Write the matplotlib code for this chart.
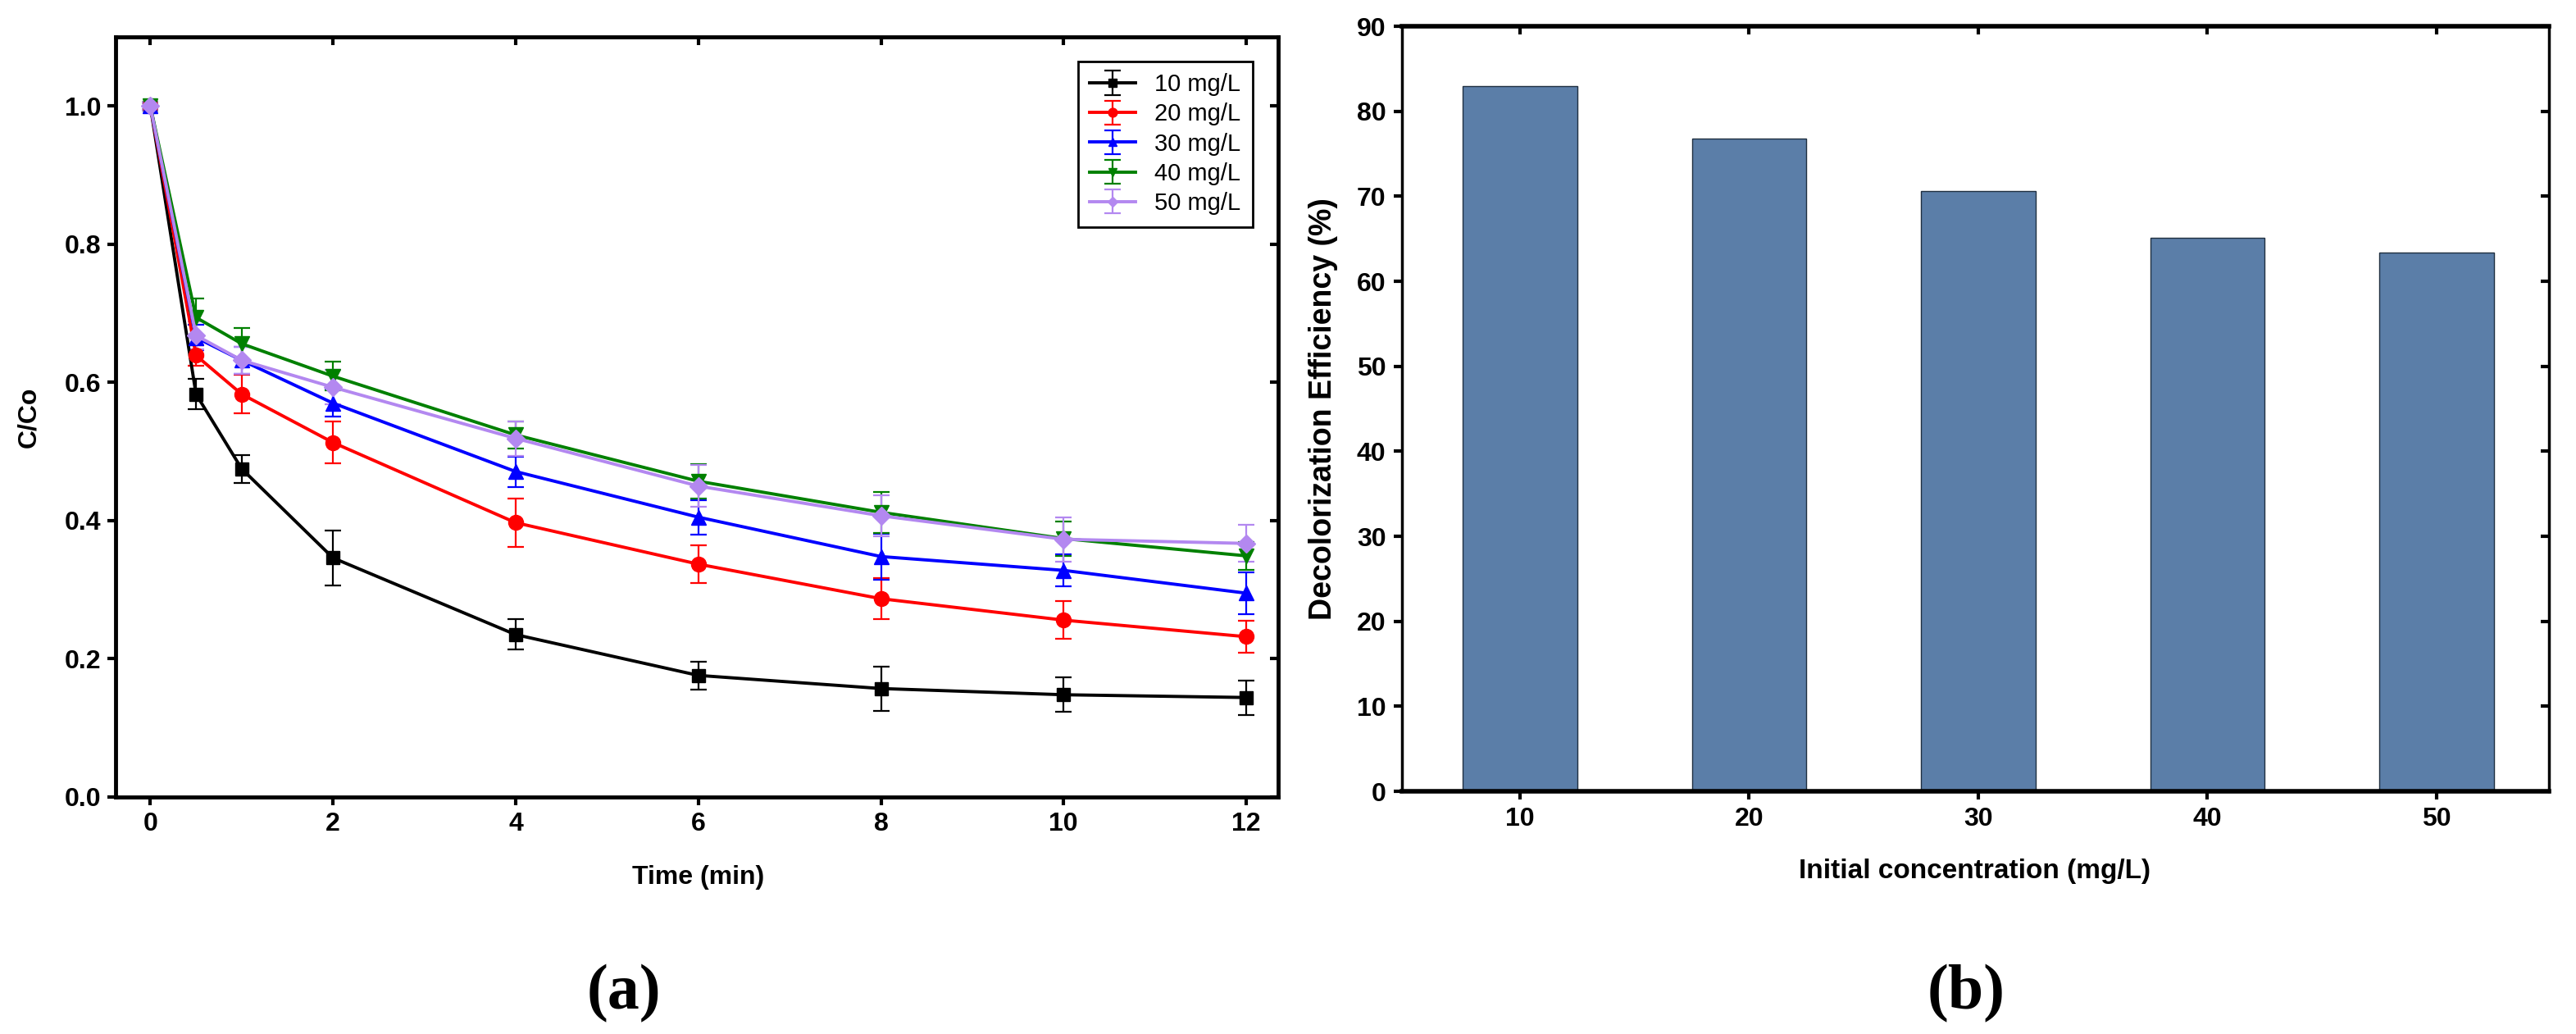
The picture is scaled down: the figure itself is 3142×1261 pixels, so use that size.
import numpy as np
import matplotlib
matplotlib.use("Agg")
import matplotlib.pyplot as plt

plt.rcParams["font.family"] = ["Liberation Sans", "DejaVu Sans"]

# (a) C/Co vs time
t = [0, 0.5, 1, 2, 4, 6, 8, 10, 12]
c10 = [1.0, 0.583, 0.475, 0.346, 0.235, 0.176, 0.157, 0.148, 0.144]
c20 = [1.0, 0.639, 0.583, 0.513, 0.397, 0.337, 0.287, 0.256, 0.232]
c30 = [1.0, 0.665, 0.632, 0.570, 0.471, 0.405, 0.348, 0.328, 0.295]
c40 = [1.0, 0.694, 0.656, 0.609, 0.524, 0.457, 0.412, 0.374, 0.349]
c50 = [1.0, 0.668, 0.632, 0.593, 0.519, 0.450, 0.407, 0.373, 0.367]
e10 = [0.005, 0.022, 0.020, 0.040, 0.022, 0.020, 0.032, 0.025, 0.025]
e20 = [0.005, 0.015, 0.028, 0.030, 0.035, 0.027, 0.030, 0.027, 0.023]
e30 = [0.005, 0.018, 0.020, 0.020, 0.022, 0.025, 0.033, 0.023, 0.030]
e40 = [0.005, 0.028, 0.023, 0.021, 0.020, 0.025, 0.030, 0.025, 0.020]
e50 = [0.005, 0.020, 0.020, 0.025, 0.025, 0.030, 0.030, 0.032, 0.027]
labels = ["10 mg/L", "20 mg/L", "30 mg/L", "40 mg/L", "50 mg/L"]

# (b) efficiency vs initial concentration
conc = [10, 20, 30, 40, 50]
eff = [83.0, 76.8, 70.6, 65.1, 63.4]

series = [c10, c20, c30, c40, c50]
errs = [e10, e20, e30, e40, e50]
colors = ["black", "#ff0000", "#0000ff", "#008000", "#b388f0"]
markers = ["s", "o", "^", "v", "D"]
msizes = [12, 13, 13, 13, 11]

fig = plt.figure(figsize=(31.42, 12.61), dpi=100)

ax1 = fig.add_axes([0.0449, 0.2292, 0.4513, 0.7351])
for y, e, c, m, ms, lab in zip(series, errs, colors, markers, msizes, labels):
    ax1.errorbar(t, y, yerr=e, color=c, ecolor=c, marker=m, markersize=ms,
                 lw=2.8, elinewidth=1.6, capsize=7, capthick=1.6, label=lab)
ax1.set_xlim(-0.38, 12.35)
ax1.set_ylim(0, 1.1)
ax1.set_xticks(range(0, 13, 2))
ax1.set_yticks(np.arange(0, 1.01, 0.2))
ax1.set_yticklabels(["%.1f" % v for v in np.arange(0, 1.01, 0.2)])
ax1.tick_params(direction="out", length=7, width=3, labelsize=23, pad=6)
for lb in ax1.get_xticklabels() + ax1.get_yticklabels():
    lb.set_fontweight("bold")
ax1.set_xlabel("Time (min)", fontsize=23, fontweight="bold")
ax1.set_ylabel("C/Co", fontsize=23, fontweight="bold")
ax1.xaxis.set_label_coords(0.501, -0.09)
ax1.yaxis.set_label_coords(-0.064, 0.5)
for s in ax1.spines.values():
    s.set_linewidth(3.5)
top1 = ax1.secondary_xaxis("top")
top1.set_xticks(range(0, 13, 2))
top1.tick_params(direction="in", length=7, width=3, labeltop=False)
right1 = ax1.secondary_yaxis("right")
right1.set_yticks(np.arange(0, 1.01, 0.2))
right1.tick_params(direction="in", length=7, width=3, labelright=False)
leg = ax1.legend(loc="upper right", bbox_to_anchor=(0.978, 0.968), borderaxespad=0,
                 fontsize=21, fancybox=False, edgecolor="black", framealpha=1,
                 handlelength=1.9, labelspacing=0.28, borderpad=0.5, handletextpad=0.8,
                 markerscale=0.6)
leg.get_frame().set_linewidth(2)

ax2 = fig.add_axes([0.5442, 0.2347, 0.4453, 0.7399])
ax2.bar(conc, eff, width=5, color="#5b7ea8", edgecolor="#1f2f40", linewidth=1)
ax2.set_xlim(4.85, 54.9)
ax2.set_ylim(0, 90)
ax2.set_xticks(conc)
ax2.set_yticks(range(0, 91, 10))
ax2.tick_params(direction="out", length=7, width=3, labelsize=23, pad=7)
for lb in ax2.get_xticklabels() + ax2.get_yticklabels():
    lb.set_fontweight("bold")
ax2.set_xlabel("Initial concentration (mg/L)", fontsize=24, fontweight="bold")
ax2.set_ylabel("Decolorization Efficiency (%)", fontsize=27, fontweight="bold")
ax2.xaxis.set_label_coords(0.499, -0.088)
ax2.yaxis.set_label_coords(-0.056, 0.5)
for s in ax2.spines.values():
    s.set_linewidth(2.5)
ax2.spines["bottom"].set_linewidth(4)
ax2.spines["top"].set_linewidth(4)
top2 = ax2.secondary_xaxis("top")
top2.set_xticks(conc)
top2.tick_params(direction="in", length=7, width=3, labeltop=False)
right2 = ax2.secondary_yaxis("right")
right2.set_yticks(range(0, 91, 10))
right2.tick_params(direction="in", length=7, width=3, labelright=False)

fig.text(0.2422, 0.0389, "(a)", fontsize=56, fontweight="bold", ha="center", va="center",
         family=["Liberation Serif", "DejaVu Serif"])
fig.text(0.7632, 0.0389, "(b)", fontsize=56, fontweight="bold", ha="center", va="center",
         family=["Liberation Serif", "DejaVu Serif"])

fig.savefig("out.png", dpi=100)
